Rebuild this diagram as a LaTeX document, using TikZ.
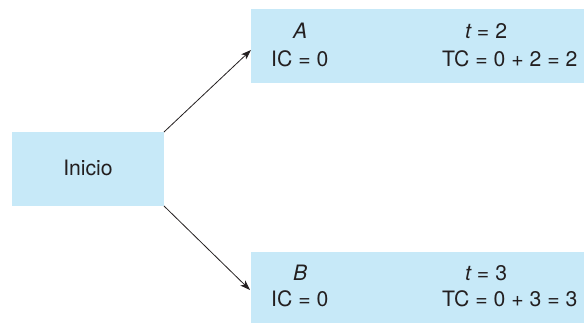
\documentclass[tikz,border=0pt]{standalone}
\usepackage{fontspec}
\setmainfont{TeX Gyre Heros}
\usetikzlibrary{arrows.meta}
\definecolor{boxblue}{HTML}{C7E9F8}
\definecolor{ink}{HTML}{231F20}
\begin{document}
\begin{tikzpicture}[x=1pt,y=1pt,
  box/.style={fill=boxblue,draw=none},
  lbl/.style={inner sep=0pt,text=ink,font=\fontsize{21.2}{25}\selectfont,anchor=base west},
  arr/.style={draw=ink,line width=0.8pt,-{Stealth[length=10pt,width=7pt,inset=2.5pt]}}]
\useasboundingbox (0,0) rectangle (584,323);
% boxes
\path[box] (12,117) rectangle (164,191);
\node[inner sep=0pt,text=ink,font=\fontsize{21.2}{25}\selectfont,anchor=base] (ini) at (88,147) {Inicio};
\coordinate (ine) at (164,191);
\coordinate (ise) at (164,117);
\path[box] (251,240) rectangle (584,314);
\path[box] (251,0) rectangle (584,71);
% box A texts
\node[lbl] (a1) at (293,284) {\itshape A};
\node[lbl] (a2) at (465,284) {\itshape t\upshape\ = 2};
\node[lbl] (a3) at (271,256) {IC = 0};
\node[lbl] (a4) at (442,256) {TC = 0 + 2 = 2};
% box B texts
\node[lbl] (b1) at (293,42) {\itshape B};
\node[lbl] (b2) at (465,42) {\itshape t\upshape\ = 3};
\node[lbl] (b3) at (271,16) {IC = 0};
\node[lbl] (b4) at (442,16) {TC = 0 + 3 = 3};
% arrows
\coordinate (ta) at (251,273);
\coordinate (tb) at (250,33);
\draw[arr] (ine) -- (ta);
\draw[arr] (ise) -- (tb);
\end{tikzpicture}
\end{document}
